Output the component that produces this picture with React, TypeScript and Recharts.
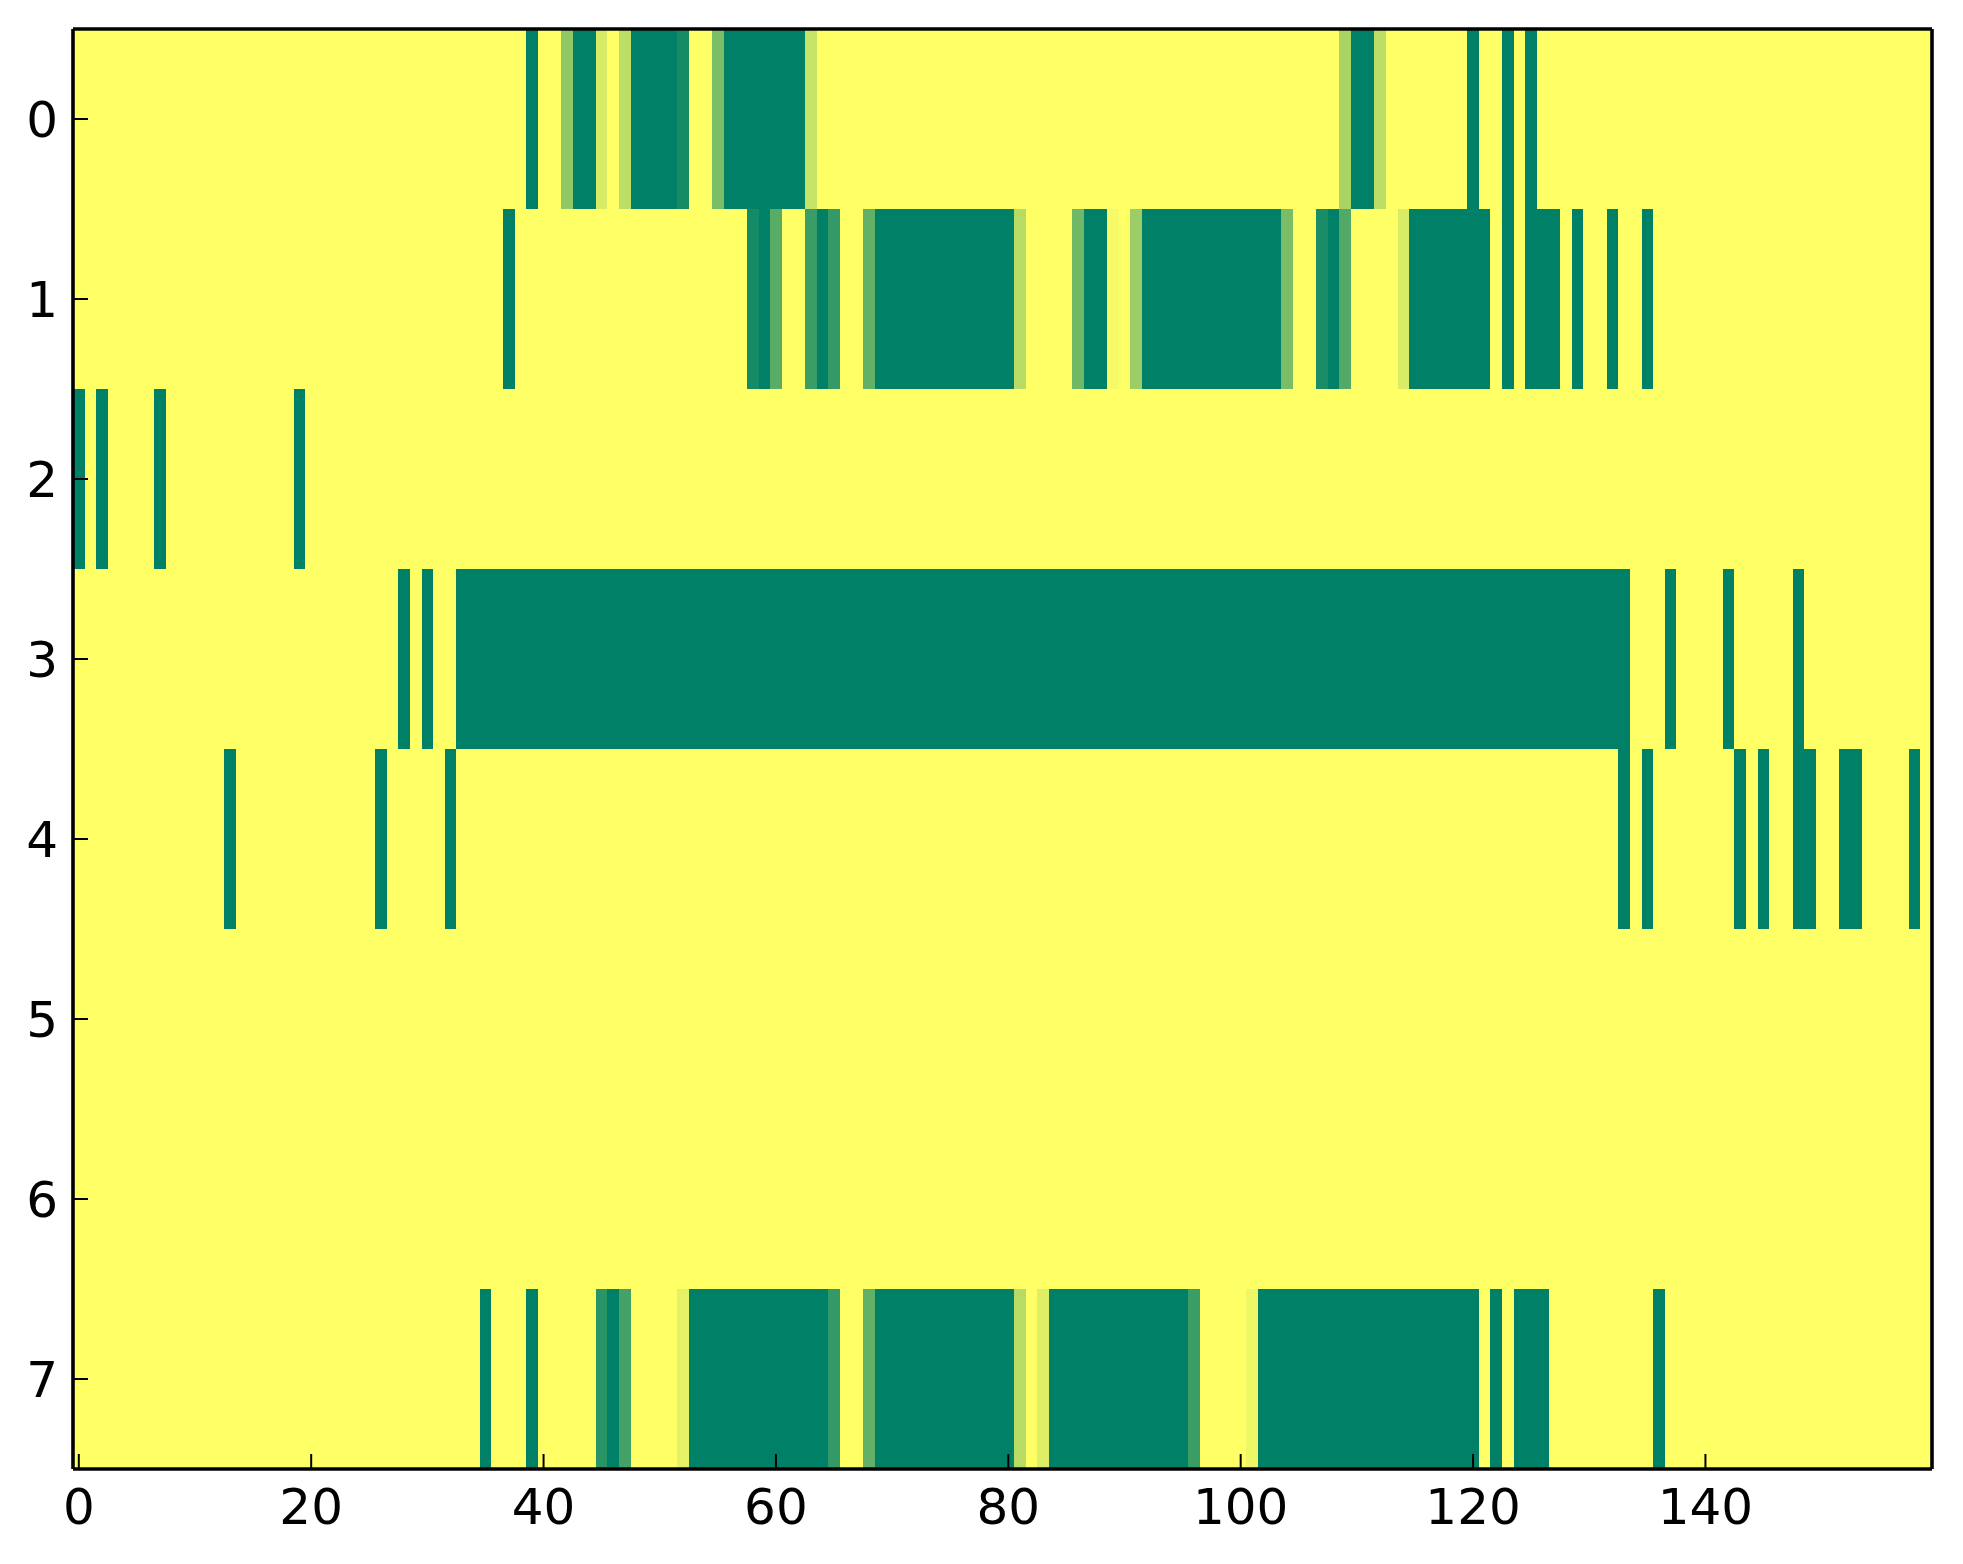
import { Scatter, ScatterChart, XAxis, YAxis } from "recharts";

// row index shown on the y axis, one array of 160 cell values per row
const ROW_LABELS = [0, 1, 2, 3, 4, 5, 6, 7];
const X_TICKS = [0, 20, 40, 60, 80, 100, 120, 140];
const COLUMN_COUNT = 160;

const row0 = [
  1, 1, 1, 1, 1, 1, 1, 1, 1, 1, 1, 1, 1, 1, 1, 1, 1, 1, 1, 1,
  1, 1, 1, 1, 1, 1, 1, 1, 1, 1, 1, 1, 1, 1, 1, 1, 1, 1, 1, 0,
  1, 1, 0.57, 0, 0, 0.84, 1, 0.74, 0, 0, 0, 0, 0.09, 1, 1, 0.48, 0, 0, 0, 0,
  0, 0, 0, 0.78, 1, 1, 1, 1, 1, 1, 1, 1, 1, 1, 1, 1, 1, 1, 1, 1,
  1, 1, 1, 1, 1, 1, 1, 1, 1, 1, 1, 1, 1, 1, 1, 1, 1, 1, 1, 1,
  1, 1, 1, 1, 1, 1, 1, 1, 1, 0.66, 0, 0, 0.74, 1, 1, 1, 1, 1, 1, 1,
  0, 1, 1, 0, 1, 0, 1, 1, 1, 1, 1, 1, 1, 1, 1, 1, 1, 1, 1, 1,
  1, 1, 1, 1, 1, 1, 1, 1, 1, 1, 1, 1, 1, 1, 1, 1, 1, 1, 1, 1,
];

const row1 = [
  1, 1, 1, 1, 1, 1, 1, 1, 1, 1, 1, 1, 1, 1, 1, 1, 1, 1, 1, 1,
  1, 1, 1, 1, 1, 1, 1, 1, 1, 1, 1, 1, 1, 1, 1, 1, 1, 0, 1, 1,
  1, 1, 1, 1, 1, 1, 1, 1, 1, 1, 1, 1, 1, 1, 1, 1, 1, 1, 0.08, 0,
  0.35, 1, 1, 0.23, 0, 0.2, 1, 1, 0.39, 0, 0, 0, 0, 0, 0, 0, 0, 0, 0, 0,
  0, 0.72, 1, 1, 1, 1, 0.44, 0, 0, 0.96, 1, 0.61, 0, 0, 0, 0, 0, 0, 0, 0,
  0, 0, 0, 0, 0.48, 1, 1, 0.1, 0, 0.32, 1, 1, 1, 1, 0.85, 0, 0, 0, 0, 0,
  0, 0, 1, 0, 1, 0, 0, 0, 1, 0, 1, 1, 0, 1, 1, 0, 1, 1, 1, 1,
  1, 1, 1, 1, 1, 1, 1, 1, 1, 1, 1, 1, 1, 1, 1, 1, 1, 1, 1, 1,
];

const row2 = [
  0, 1, 0, 1, 1, 1, 1, 0, 1, 1, 1, 1, 1, 1, 1, 1, 1, 1, 1, 0,
  1, 1, 1, 1, 1, 1, 1, 1, 1, 1, 1, 1, 1, 1, 1, 1, 1, 1, 1, 1,
  1, 1, 1, 1, 1, 1, 1, 1, 1, 1, 1, 1, 1, 1, 1, 1, 1, 1, 1, 1,
  1, 1, 1, 1, 1, 1, 1, 1, 1, 1, 1, 1, 1, 1, 1, 1, 1, 1, 1, 1,
  1, 1, 1, 1, 1, 1, 1, 1, 1, 1, 1, 1, 1, 1, 1, 1, 1, 1, 1, 1,
  1, 1, 1, 1, 1, 1, 1, 1, 1, 1, 1, 1, 1, 1, 1, 1, 1, 1, 1, 1,
  1, 1, 1, 1, 1, 1, 1, 1, 1, 1, 1, 1, 1, 1, 1, 1, 1, 1, 1, 1,
  1, 1, 1, 1, 1, 1, 1, 1, 1, 1, 1, 1, 1, 1, 1, 1, 1, 1, 1, 1,
];

const row3 = [
  1, 1, 1, 1, 1, 1, 1, 1, 1, 1, 1, 1, 1, 1, 1, 1, 1, 1, 1, 1,
  1, 1, 1, 1, 1, 1, 1, 1, 0, 1, 0, 1, 1, 0, 0, 0, 0, 0, 0, 0,
  0, 0, 0, 0, 0, 0, 0, 0, 0, 0, 0, 0, 0, 0, 0, 0, 0, 0, 0, 0,
  0, 0, 0, 0, 0, 0, 0, 0, 0, 0, 0, 0, 0, 0, 0, 0, 0, 0, 0, 0,
  0, 0, 0, 0, 0, 0, 0, 0, 0, 0, 0, 0, 0, 0, 0, 0, 0, 0, 0, 0,
  0, 0, 0, 0, 0, 0, 0, 0, 0, 0, 0, 0, 0, 0, 0, 0, 0, 0, 0, 0,
  0, 0, 0, 0, 0, 0, 0, 0, 0, 0, 0, 0, 0, 0, 1, 1, 1, 0, 1, 1,
  1, 1, 0, 1, 1, 1, 1, 1, 0, 1, 1, 1, 1, 1, 1, 1, 1, 1, 1, 1,
];

const row4 = [
  1, 1, 1, 1, 1, 1, 1, 1, 1, 1, 1, 1, 1, 0, 1, 1, 1, 1, 1, 1,
  1, 1, 1, 1, 1, 1, 0, 1, 1, 1, 1, 1, 0, 1, 1, 1, 1, 1, 1, 1,
  1, 1, 1, 1, 1, 1, 1, 1, 1, 1, 1, 1, 1, 1, 1, 1, 1, 1, 1, 1,
  1, 1, 1, 1, 1, 1, 1, 1, 1, 1, 1, 1, 1, 1, 1, 1, 1, 1, 1, 1,
  1, 1, 1, 1, 1, 1, 1, 1, 1, 1, 1, 1, 1, 1, 1, 1, 1, 1, 1, 1,
  1, 1, 1, 1, 1, 1, 1, 1, 1, 1, 1, 1, 1, 1, 1, 1, 1, 1, 1, 1,
  1, 1, 1, 1, 1, 1, 1, 1, 1, 1, 1, 1, 1, 0, 1, 0, 1, 1, 1, 1,
  1, 1, 1, 0, 1, 0, 1, 1, 0, 0, 1, 1, 0, 0, 1, 1, 1, 1, 0, 1,
];

const row5 = [
  1, 1, 1, 1, 1, 1, 1, 1, 1, 1, 1, 1, 1, 1, 1, 1, 1, 1, 1, 1,
  1, 1, 1, 1, 1, 1, 1, 1, 1, 1, 1, 1, 1, 1, 1, 1, 1, 1, 1, 1,
  1, 1, 1, 1, 1, 1, 1, 1, 1, 1, 1, 1, 1, 1, 1, 1, 1, 1, 1, 1,
  1, 1, 1, 1, 1, 1, 1, 1, 1, 1, 1, 1, 1, 1, 1, 1, 1, 1, 1, 1,
  1, 1, 1, 1, 1, 1, 1, 1, 1, 1, 1, 1, 1, 1, 1, 1, 1, 1, 1, 1,
  1, 1, 1, 1, 1, 1, 1, 1, 1, 1, 1, 1, 1, 1, 1, 1, 1, 1, 1, 1,
  1, 1, 1, 1, 1, 1, 1, 1, 1, 1, 1, 1, 1, 1, 1, 1, 1, 1, 1, 1,
  1, 1, 1, 1, 1, 1, 1, 1, 1, 1, 1, 1, 1, 1, 1, 1, 1, 1, 1, 1,
];

const row6 = [
  1, 1, 1, 1, 1, 1, 1, 1, 1, 1, 1, 1, 1, 1, 1, 1, 1, 1, 1, 1,
  1, 1, 1, 1, 1, 1, 1, 1, 1, 1, 1, 1, 1, 1, 1, 1, 1, 1, 1, 1,
  1, 1, 1, 1, 1, 1, 1, 1, 1, 1, 1, 1, 1, 1, 1, 1, 1, 1, 1, 1,
  1, 1, 1, 1, 1, 1, 1, 1, 1, 1, 1, 1, 1, 1, 1, 1, 1, 1, 1, 1,
  1, 1, 1, 1, 1, 1, 1, 1, 1, 1, 1, 1, 1, 1, 1, 1, 1, 1, 1, 1,
  1, 1, 1, 1, 1, 1, 1, 1, 1, 1, 1, 1, 1, 1, 1, 1, 1, 1, 1, 1,
  1, 1, 1, 1, 1, 1, 1, 1, 1, 1, 1, 1, 1, 1, 1, 1, 1, 1, 1, 1,
  1, 1, 1, 1, 1, 1, 1, 1, 1, 1, 1, 1, 1, 1, 1, 1, 1, 1, 1, 1,
];

const row7 = [
  1, 1, 1, 1, 1, 1, 1, 1, 1, 1, 1, 1, 1, 1, 1, 1, 1, 1, 1, 1,
  1, 1, 1, 1, 1, 1, 1, 1, 1, 1, 1, 1, 1, 1, 1, 0, 1, 1, 1, 0,
  1, 1, 1, 1, 1, 0.16, 0, 0.27, 1, 1, 1, 1, 0.9, 0, 0, 0, 0, 0, 0, 0,
  0, 0, 0, 0, 0, 0.2, 1, 1, 0.39, 0, 0, 0, 0, 0, 0, 0, 0, 0, 0, 0,
  0, 0.72, 1, 0.87, 0, 0, 0, 0, 0, 0, 0, 0, 0, 0, 0, 0, 0.23, 1, 1, 1,
  1, 0.94, 0, 0, 0, 0, 0, 0, 0, 0, 0, 0, 0, 0, 0, 0, 0, 0, 0, 0,
  0, 1, 0, 1, 0, 0, 0, 1, 1, 1, 1, 1, 1, 1, 1, 1, 0, 1, 1, 1,
  1, 1, 1, 1, 1, 1, 1, 1, 1, 1, 1, 1, 1, 1, 1, 1, 1, 1, 1, 1,
];

const ROWS = [row0, row1, row2, row3, row4, row5, row6, row7];

const CHART_W = 1947;
const CHART_H = 1540;
const MARGIN = { top: 20, right: 22, bottom: 0, left: 0 };
const LEFT_AXIS_W = 65;
const BOTTOM_AXIS_H = 79;
const PLOT_W = CHART_W - MARGIN.left - MARGIN.right - LEFT_AXIS_W - 1;
const PLOT_H = CHART_H - MARGIN.top - MARGIN.bottom - BOTTOM_AXIS_H - 1;
const CELL_W = PLOT_W / COLUMN_COUNT;
const CELL_H = PLOT_H / ROW_LABELS.length;
const X_DOMAIN = [-0.5, COLUMN_COUNT - 0.5];
const Y_DOMAIN = [-0.5, ROW_LABELS.length - 0.5];

// matplotlib "summer" colormap
function summer(v: number) {
  const r = Math.round(255 * v);
  const g = Math.round(127.5 + 127.5 * v);
  return `rgb(${r}, ${g}, 102)`;
}

const cells = ROWS.flatMap((values, row) =>
  values.map((v, col) => ({ x: col, y: row, v }))
);

function HeatCell(props: any) {
  const { cx, cy, payload } = props;
  if (cx == null || cy == null) return null;
  return (
    <rect
      x={cx - CELL_W / 2}
      y={cy - CELL_H / 2}
      width={CELL_W + 0.6}
      height={CELL_H + 0.6}
      fill={summer(payload.v)}
      shapeRendering="crispEdges"
    />
  );
}

const axisLine = { stroke: "#000", strokeWidth: 3.6 };
const tickLine = { stroke: "#000", strokeWidth: 2 };
const tickFont = { fill: "#000", fontSize: 50, fontFamily: "DejaVu Sans" };

// the four axes; `visible` off keeps the same layout but draws nothing
function Axes(visible: boolean) {
  return [
    <XAxis
      key="bottom"
      xAxisId="bottom"
      type="number"
      dataKey="x"
      domain={X_DOMAIN}
      allowDataOverflow
      ticks={X_TICKS}
      interval={0}
      height={BOTTOM_AXIS_H}
      tickSize={-15}
      tickMargin={34}
      axisLine={visible ? axisLine : false}
      tickLine={visible ? tickLine : false}
      tick={visible ? tickFont : false}
    />,
    <XAxis
      key="top"
      xAxisId="top"
      orientation="top"
      type="number"
      domain={X_DOMAIN}
      allowDataOverflow
      ticks={X_TICKS}
      interval={0}
      height={1}
      tickSize={-15}
      axisLine={visible ? axisLine : false}
      tickLine={visible ? tickLine : false}
      tick={false}
    />,
    <YAxis
      key="left"
      yAxisId="left"
      type="number"
      dataKey="y"
      domain={Y_DOMAIN}
      allowDataOverflow
      reversed
      ticks={ROW_LABELS}
      interval={0}
      width={LEFT_AXIS_W}
      tickSize={-15}
      tickMargin={30}
      axisLine={visible ? axisLine : false}
      tickLine={visible ? tickLine : false}
      tick={visible ? tickFont : false}
    />,
    <YAxis
      key="right"
      yAxisId="right"
      orientation="right"
      type="number"
      domain={Y_DOMAIN}
      allowDataOverflow
      reversed
      ticks={ROW_LABELS}
      interval={0}
      width={1}
      tickSize={-15}
      axisLine={visible ? axisLine : false}
      tickLine={visible ? tickLine : false}
      tick={false}
    />,
  ];
}

export default function App() {
  return (
    <div style={{ position: "relative", width: CHART_W, height: CHART_H, background: "#fff" }}>
      <ScatterChart width={CHART_W} height={CHART_H} margin={MARGIN}>
        <Scatter
          data={cells}
          dataKey="v"
          xAxisId="bottom"
          yAxisId="left"
          shape={HeatCell}
          isAnimationActive={false}
        />
        {Axes(false)}
      </ScatterChart>
      {/* frame and inward ticks drawn on top of the cells */}
      <div style={{ position: "absolute", left: 0, top: 0, pointerEvents: "none" }}>
        <ScatterChart width={CHART_W} height={CHART_H} margin={MARGIN}>
          <Scatter
            data={[]}
            dataKey="v"
            xAxisId="bottom"
            yAxisId="left"
            isAnimationActive={false}
          />
          {Axes(true)}
        </ScatterChart>
      </div>
    </div>
  );
}
